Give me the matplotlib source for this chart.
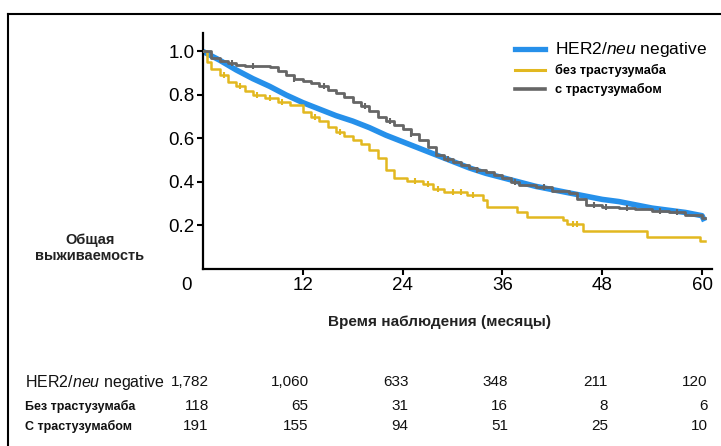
import numpy as np
import matplotlib.pyplot as plt
from matplotlib.lines import Line2D
import matplotlib.transforms as mtransforms

plt.rcParams['font.family'] = ['Liberation Sans', 'DejaVu Sans']
plt.rcParams['mathtext.fontset'] = 'custom'
plt.rcParams['mathtext.it'] = 'Liberation Sans:italic'
plt.rcParams['mathtext.rm'] = 'Liberation Sans'

# HER2/neu negative (smooth, many small steps)
neg_t = [0, 2, 4, 6, 8, 10, 12, 14, 16, 18, 20, 22, 24, 26, 28, 30, 32, 34, 36,
         38, 40, 42, 44, 46, 48, 50, 52, 54, 56, 58, 60, 60.3]
neg_s = [1.0, 0.96, 0.915, 0.875, 0.84, 0.80, 0.765, 0.735, 0.705, 0.68, 0.65, 0.615,
         0.585, 0.555, 0.525, 0.495, 0.465, 0.44, 0.42, 0.40, 0.38, 0.365, 0.35,
         0.335, 0.32, 0.31, 0.295, 0.28, 0.27, 0.26, 0.245, 0.22]

# без трастузумаба
no_t = [0, 0.5, 1, 2, 3, 4, 5, 6, 7.5, 9, 10.5, 12, 13, 14, 15, 16, 17, 18, 19, 20,
        21, 22, 23, 24.5, 26.5, 27.7, 29, 31.7, 33.7, 34.1, 37.7, 38.9, 43.3, 43.8,
        45.7, 53.4, 59.8, 60.3]
no_s = [1.0, 0.95, 0.92, 0.89, 0.86, 0.84, 0.82, 0.80, 0.785, 0.77, 0.755, 0.72, 0.70,
        0.68, 0.655, 0.63, 0.61, 0.595, 0.575, 0.545, 0.51, 0.455, 0.42, 0.405, 0.39,
        0.37, 0.355, 0.338, 0.315, 0.287, 0.261, 0.238, 0.223, 0.209, 0.177, 0.145,
        0.13, 0.13]
no_cens = [2.5, 4.5, 6.5, 8, 9.5, 13.5, 16.5, 25.5, 27, 28.3, 30, 31, 32.5, 44.5, 45]

# с трастузумабом
tr_t = [0, 1, 2, 3, 4, 5, 8, 9, 10, 11, 12, 13, 14, 15, 16, 17, 18, 19, 20, 21, 22,
        23, 24, 25, 26, 27, 28, 29, 30, 31, 32, 33, 34, 35, 36, 37, 38, 40, 42, 44,
        45, 46, 48, 50, 52, 54, 56, 58, 60, 60.3]
tr_s = [1.0, 0.97, 0.955, 0.945, 0.94, 0.935, 0.93, 0.91, 0.89, 0.875, 0.865, 0.855,
        0.84, 0.825, 0.81, 0.79, 0.77, 0.75, 0.725, 0.70, 0.68, 0.66, 0.645, 0.62,
        0.595, 0.56, 0.525, 0.505, 0.49, 0.478, 0.465, 0.455, 0.445, 0.432, 0.42,
        0.40, 0.385, 0.375, 0.36, 0.35, 0.32, 0.295, 0.285, 0.28, 0.275, 0.265,
        0.26, 0.25, 0.235, 0.235]
tr_cens = [3.5, 6, 11, 14.5, 19.5, 22.5, 25, 29.5, 33, 37.5, 41, 47, 48.5, 51, 55, 57]

months = [0, 12, 24, 36, 48, 60]
risk_neg = ['1,782', '1,060', '633', '348', '211', '120']
risk_no = ['118', '65', '31', '16', '8', '6']
risk_tr = ['191', '155', '94', '51', '25', '10']

c_blue = '#2690ea'
c_yel = '#e2b820'
c_gray = '#666666'

fig = plt.figure(figsize=(7.21, 4.46), dpi=100)
ax = fig.add_axes([203/721, 1-269/446, (712-203)/721, (269-33)/446])

ax.plot(neg_t, neg_s, color=c_blue, lw=4.0, solid_capstyle='butt', zorder=2)
ax.step(no_t, no_s, where='post', color=c_yel, lw=1.8, zorder=3)
ax.step(tr_t, tr_s, where='post', color=c_gray, lw=2.0, zorder=4)


def surv_at(ts, ss, t):
    i = np.searchsorted(ts, t, side='right') - 1
    return ss[i]


ax.plot(no_cens, [surv_at(no_t, no_s, t) for t in no_cens], ls='none', marker='|',
        ms=5, mew=1.5, color=c_yel, zorder=3)
ax.plot(tr_cens, [surv_at(tr_t, tr_s, t) for t in tr_cens], ls='none', marker='|',
        ms=5, mew=1.5, color=c_gray, zorder=4)

ax.set_xlim(0, 61.2)
ax.set_ylim(0, 1.085)
for s in ['top', 'right']:
    ax.spines[s].set_visible(False)
for s in ['left', 'bottom']:
    ax.spines[s].set_linewidth(1.6)
ax.set_xticks(months)
ax.set_xticklabels([str(m) for m in months], fontsize=13.5)
ax.set_yticks([0.2, 0.4, 0.6, 0.8, 1.0])
ax.set_yticklabels(['0.2', '0.4', '0.6', '0.8', '1.0'], fontsize=13.5)
ax.tick_params(axis='both', length=4.5, width=1.5, pad=1.5)
ax.get_xticklines()[0].set_visible(False)
lab0 = ax.get_xticklabels()[0]
lab0.set_transform(lab0.get_transform() + mtransforms.ScaledTranslation(-0.16, 0, fig.dpi_scale_trans))

fig.text(90/721, 1-248/446, 'Общая\nвыживаемость', ha='center', va='center',
         fontsize=10.5, fontweight='bold', color='#222222', linespacing=1.1)
fig.text(440/721, 1-322/446, 'Время наблюдения (месяцы)', ha='center', va='center',
         fontsize=11, fontweight='bold', color='#222222')

handles = [Line2D([], [], color=c_blue, lw=3.8),
           Line2D([], [], color=c_yel, lw=2.2),
           Line2D([], [], color=c_gray, lw=2.6)]
leg = ax.legend(handles, [r'HER2/$\it{neu}$ negative', 'без трастузумаба', 'с трастузумабом'],
                loc='upper left', bbox_to_anchor=(0.591, 1.021), frameon=False,
                handlelength=2.3, handletextpad=0.8, labelspacing=0.45, fontsize=9.2)
txts = leg.get_texts()
txts[0].set_fontsize(12.5)
txts[1].set_fontweight('bold')
txts[2].set_fontweight('bold')

# numbers at risk
blend = mtransforms.blended_transform_factory(ax.transData, fig.transFigure)
rows = [(382, r'HER2/$\it{neu}$ negative', risk_neg, 11.5, 'normal'),
        (406, 'Без трастузумаба', risk_no, 9, 'bold'),
        (426, 'С трастузумабом', risk_tr, 9, 'bold')]
for y, name, vals, fs, fw in rows:
    fig.text(25/721, 1-y/446, name, ha='left', va='center', fontsize=fs,
             fontweight=fw, color='#111111')
    for m, v in zip(months, vals):
        ax.text(m + 0.7, 1-y/446, v, transform=blend, ha='right', va='center',
                fontsize=11, color='#111111')

# frame lines around picture
fig.add_artist(Line2D([8/721, 8/721], [0, 1-14/446], color='black', lw=1.5))
fig.add_artist(Line2D([8/721, 1], [1-14/446, 1-14/446], color='black', lw=1.5))

fig.savefig('out.png', dpi=100)
